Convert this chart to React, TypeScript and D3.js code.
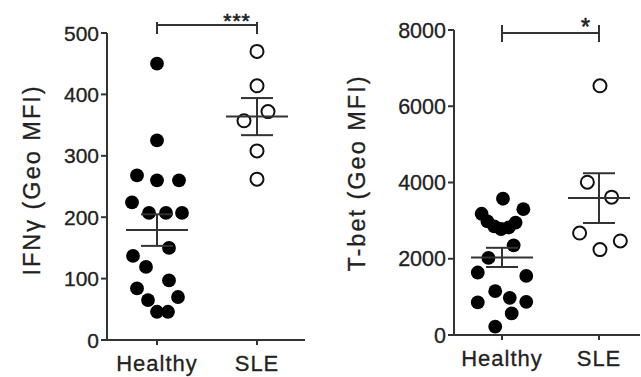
import React from "react";
import * as d3 from "d3";

const categories = ["Healthy", "SLE"];

// Panel A: IFNγ (Geo MFI)
const ifngHealthy = [450, 325, 268, 260, 260, 224, 207, 207, 207, 150, 137, 119, 97, 84, 65, 70, 46, 46];
const ifngHealthyJitter = [0, 0, -0.2, 0, 0.22, -0.25, -0.08, 0.09, 0.25, 0.12, -0.24, -0.11, 0.12, -0.2, -0.09, 0.21, 0, 0.11];
const ifngSLE = [470, 414, 372, 357, 308, 262];
const ifngSLEJitter = [0, 0, 0.11, -0.13, 0, 0];
const ifngTicks = [0, 100, 200, 300, 400, 500];

// Panel B: T-bet (Geo MFI)
const tbetHealthy = [3574, 3180, 3300, 2980, 2850, 2780, 2820, 2950, 2353, 2021, 1639, 1550, 1150, 976, 855, 871, 567, 218];
const tbetHealthyJitter = [0.01, -0.21, 0.22, -0.15, -0.08, -0.01, 0.07, 0.14, 0.12, -0.14, -0.25, 0.25, -0.07, 0.08, -0.25, 0.25, 0.1, -0.07];
const tbetSLE = [6536, 4008, 3616, 2675, 2240, 2466];
const tbetSLEJitter = [0.01, -0.12, 0.13, -0.2, 0.01, 0.22];
const tbetTicks = [0, 2000, 4000, 6000, 8000];

const INK = "#333";
const FONT = "'Liberation Sans', Arial, sans-serif";

type PanelProps = {
  label: string;
  healthy: number[];
  healthyJitter: number[];
  sle: number[];
  sleJitter: number[];
  ticks: number[];
  yMax: number;
  axisX: number;
  yTop: number;
  yBottom: number;
  xRight: number;
  cat0: number;
  cat1: number;
  labelX: number;
  labelY: number;
  stars: string;
  sigY: number;
  sigTickUp: number;
  sigTickDown: number;
  starSize: number;
  starY: number;
  starX: number;
  tickFont: number;
};

function stats(v: number[]) {
  const m = d3.mean(v) as number;
  const sem = (d3.deviation(v) as number) / Math.sqrt(v.length);
  return { m, sem };
}

function Panel(p: PanelProps) {
  const y = d3.scaleLinear().domain([0, p.yMax]).range([p.yBottom, p.yTop]);
  const x = d3.scalePoint<string>().domain(categories).range([p.cat0, p.cat1]);
  const step = p.cat1 - p.cat0;
  const groups = [
    { cat: "Healthy", vals: p.healthy, jit: p.healthyJitter, filled: true },
    { cat: "SLE", vals: p.sle, jit: p.sleJitter, filled: false },
  ];
  const r = 6.9;
  return (
    <g>
      {/* axes */}
      <line x1={p.axisX} x2={p.axisX} y1={p.yTop} y2={p.yBottom} stroke={INK} strokeWidth={2} />
      <line x1={p.axisX} x2={p.xRight} y1={p.yBottom} y2={p.yBottom} stroke={INK} strokeWidth={2} />
      {p.ticks.map((t) => (
        <g key={t}>
          <line x1={p.axisX - 6} x2={p.axisX} y1={y(t)} y2={y(t)} stroke={INK} strokeWidth={2} />
          <text
            x={p.axisX - 8}
            y={y(t)}
            dy="0.36em"
            textAnchor="end"
            fontSize={p.tickFont}
            fontFamily={FONT}
            fill="#222"
            stroke="#222"
            strokeWidth={0.3}
          >
            {t}
          </text>
        </g>
      ))}
      {categories.map((c) => (
        <g key={c}>
          <line x1={x(c)} x2={x(c)} y1={p.yBottom} y2={p.yBottom + 5} stroke={INK} strokeWidth={2} />
          <text
            x={x(c)}
            y={p.yBottom + 31}
            textAnchor="middle"
            fontSize={22}
            letterSpacing={1}
            fontFamily={FONT}
            fill="#222"
            stroke="#222"
            strokeWidth={0.3}
          >
            {c}
          </text>
        </g>
      ))}
      <text
        transform={`translate(${p.labelX},${p.labelY}) rotate(-90)`}
        textAnchor="middle"
        fontSize={23.5}
        letterSpacing={2}
        fontFamily={FONT}
        fill="#222"
        stroke="#222"
        strokeWidth={0.3}
      >
        {p.label}
      </text>
      {/* points */}
      {groups.map((g) =>
        g.vals.map((v, i) => (
          <circle
            key={g.cat + i}
            cx={(x(g.cat) as number) + g.jit[i] * step}
            cy={y(v)}
            r={g.filled ? r : 6.5}
            fill={g.filled ? "#000" : "none"}
            stroke={g.filled ? "none" : "#111"}
            strokeWidth={g.filled ? 0 : 2}
          />
        ))
      )}
      {/* mean ± SEM */}
      {groups.map((g) => {
        const s = stats(g.vals);
        const cx = x(g.cat) as number;
        return (
          <g key={"m" + g.cat} stroke={INK} strokeWidth={2}>
            <line x1={cx - 31} x2={cx + 31} y1={y(s.m)} y2={y(s.m)} />
            <line x1={cx} x2={cx} y1={y(s.m + s.sem)} y2={y(s.m - s.sem)} />
            <line x1={cx - 16} x2={cx + 16} y1={y(s.m + s.sem)} y2={y(s.m + s.sem)} />
            <line x1={cx - 16} x2={cx + 16} y1={y(s.m - s.sem)} y2={y(s.m - s.sem)} />
          </g>
        );
      })}
      {/* significance */}
      <g stroke={INK} strokeWidth={2}>
        <line x1={p.cat0} x2={p.cat1} y1={p.sigY} y2={p.sigY} />
        <line x1={p.cat0} x2={p.cat0} y1={p.sigY - p.sigTickUp} y2={p.sigY + p.sigTickDown} />
        <line x1={p.cat1} x2={p.cat1} y1={p.sigY - p.sigTickUp} y2={p.sigY + p.sigTickDown} />
      </g>
      <text
        x={p.starX}
        y={p.starY}
        textAnchor="middle"
        fontSize={p.starSize}
        letterSpacing={1}
        fontFamily={FONT}
        fill="#222"
        stroke="#222"
        strokeWidth={0.6}
      >
        {p.stars}
      </text>
    </g>
  );
}

export default function App() {
  return (
    <svg
      width={641}
      height={377}
      viewBox="0 0 641 377"
      style={{ position: "absolute", left: 0, top: 0, background: "#fff" }}
    >
      <rect width={641} height={377} fill="#fff" />
      <Panel
        label="IFNγ (Geo MFI)"
        healthy={ifngHealthy}
        healthyJitter={ifngHealthyJitter}
        sle={ifngSLE}
        sleJitter={ifngSLEJitter}
        ticks={ifngTicks}
        yMax={500}
        axisX={107}
        yTop={33}
        yBottom={340}
        xRight={305}
        cat0={157}
        cat1={257}
        labelX={40}
        labelY={180}
        stars="***"
        sigY={25}
        sigTickUp={3}
        sigTickDown={9}
        starSize={21}
        starY={28}
        starX={237}
        tickFont={21}
      />
      <Panel
        label="T-bet (Geo MFI)"
        healthy={tbetHealthy}
        healthyJitter={tbetHealthyJitter}
        sle={tbetSLE}
        sleJitter={tbetSLEJitter}
        ticks={tbetTicks}
        yMax={8000}
        axisX={454}
        yTop={30}
        yBottom={335}
        xRight={640}
        cat0={502}
        cat1={599}
        labelX={365}
        labelY={173}
        stars="*"
        sigY={33}
        sigTickUp={8}
        sigTickDown={9}
        starSize={23}
        starY={35}
        starX={586}
        tickFont={21.5}
      />
    </svg>
  );
}
